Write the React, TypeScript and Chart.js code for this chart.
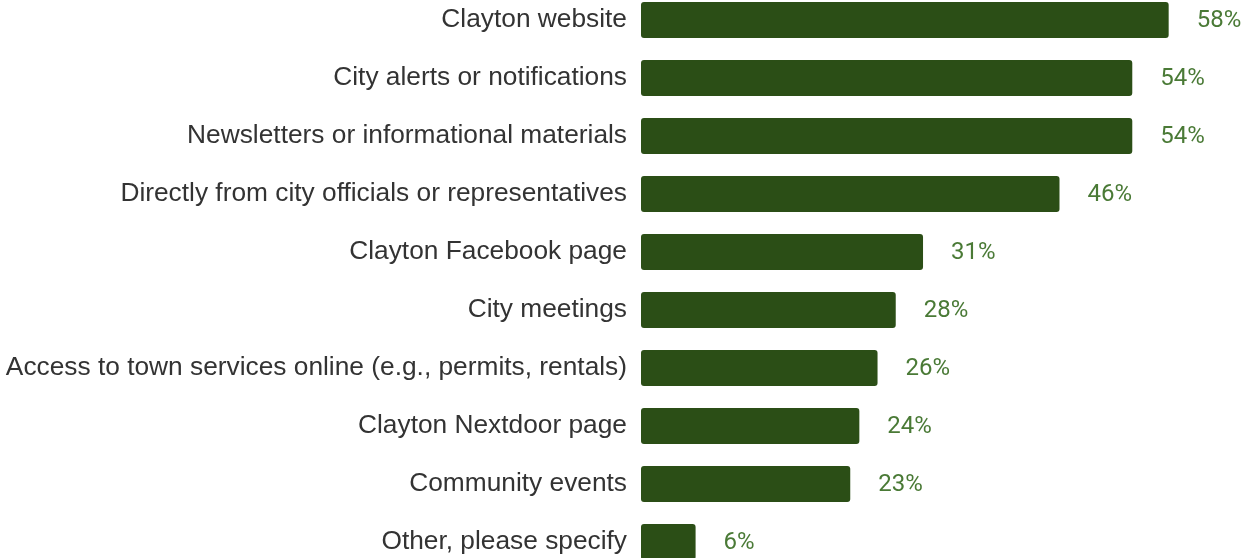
import React, { useEffect, useRef } from "react";
import { Chart, registerables } from "chart.js";

Chart.register(...registerables);

const categories = [
  "Clayton website",
  "City alerts or notifications",
  "Newsletters or informational materials",
  "Directly from city officials or representatives",
  "Clayton Facebook page",
  "City meetings",
  "Access to town services online (e.g., permits, rentals)",
  "Clayton Nextdoor page",
  "Community events",
  "Other, please specify",
];
const values = [58, 54, 54, 46, 31, 28, 26, 24, 23, 6];

const valueLabelPlugin = {
  id: "valueLabels",
  afterDatasetsDraw(chart: any) {
    const ctx = chart.ctx;
    const meta = chart.getDatasetMeta(0);
    ctx.save();
    ctx.font = "24px Roboto";
    ctx.fillStyle = "#4a7a36";
    ctx.textAlign = "left";
    ctx.textBaseline = "middle";
    meta.data.forEach((bar: any, i: number) => {
      ctx.fillText(values[i] + "%", bar.x + 28, bar.y + 1);
    });
    ctx.restore();
  },
};

export default function App() {
  const ref = useRef<HTMLCanvasElement>(null);
  useEffect(() => {
    document.body.style.margin = "0";
    document.body.style.overflow = "hidden";
    const chart = new Chart(ref.current!, {
      type: "bar",
      data: {
        labels: categories,
        datasets: [
          {
            data: values,
            backgroundColor: "#2b4e16",
            borderRadius: 3,
            borderSkipped: false,
            barPercentage: 0.62,
            categoryPercentage: 1,
          },
        ],
      },
      options: {
        indexAxis: "y",
        animation: false,
        responsive: false,
        maintainAspectRatio: false,
        layout: { padding: 0 },
        plugins: { legend: { display: false }, tooltip: { enabled: false } },
        scales: {
          x: { display: false, min: 0, max: 66.5 },
          y: {
            grid: { display: false, drawTicks: false },
            border: { display: false },
            ticks: {
              color: "#333333",
              font: { family: "Liberation Sans", size: 26.3 },
              padding: 14,
            },
            afterFit(scale: any) {
              scale.width = 641;
              scale.paddingTop = 0;
              scale.paddingBottom = 0;
            },
          },
        },
      },
      plugins: [valueLabelPlugin],
    });
    return () => chart.destroy();
  }, []);
  return (
    <div style={{ position: "fixed", left: 0, top: 0, width: 1246, height: 558, overflow: "hidden", background: "#fff" }}>
      <canvas ref={ref} width={1246} height={580} style={{ position: "absolute", left: 0, top: -9 }} />
    </div>
  );
}
